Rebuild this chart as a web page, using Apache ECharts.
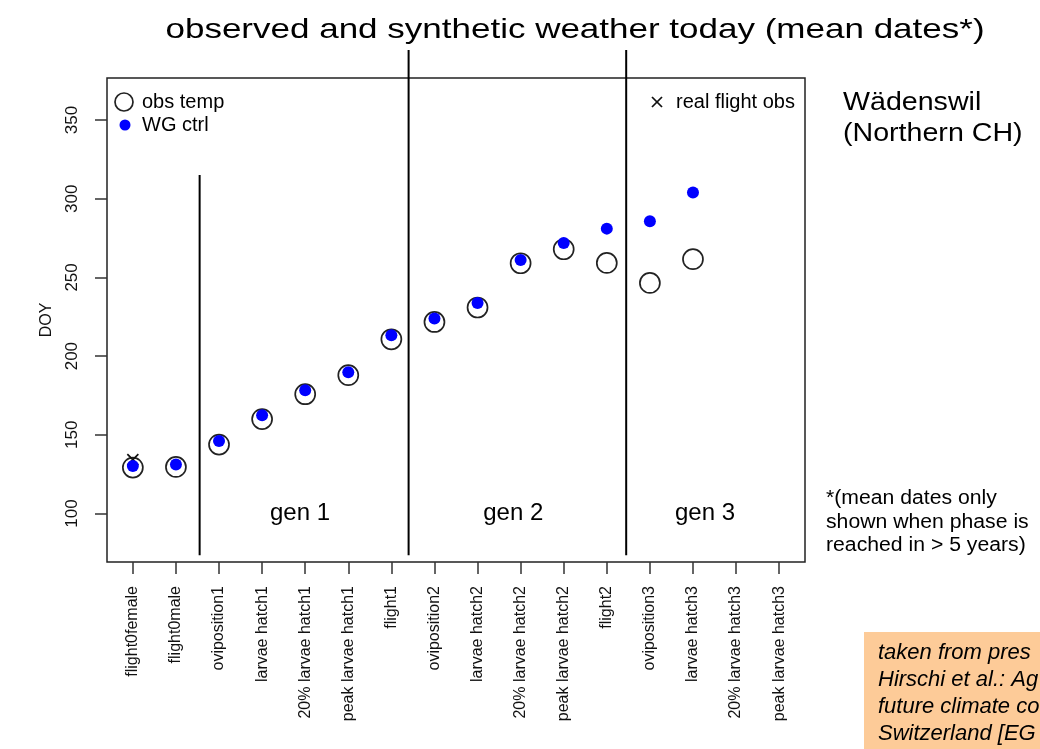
<!DOCTYPE html>
<html lang="en">
<head>
<meta charset="UTF-8">
<title>observed and synthetic weather today</title>
<script src="https://cdn.jsdelivr.net/npm/echarts@6/dist/echarts.min.js"></script>
<style>
  html, body { margin: 0; padding: 0; background: #fff; }
  #main { width: 1040px; height: 749px; }
</style>
</head>
<body>
<div id="main"></div>
<script type="text/javascript">
// phases on the x axis
var phases = ['flight0female', 'flight0male', 'oviposition1', 'larvae hatch1', '20% larvae hatch1',
  'peak larvae hatch1', 'flight1', 'oviposition2', 'larvae hatch2', '20% larvae hatch2',
  'peak larvae hatch2', 'flight2', 'oviposition3', 'larvae hatch3', '20% larvae hatch3', 'peak larvae hatch3'];
// mean DOY, observed temperature
var obsTemp = [129.2, 129.6, 143.8, 160, 175.8, 187.9, 210.7, 221.7, 230.9, 259, 267.9, 259.2, 246.5, 261.6, null, null];
// mean DOY, weather generator control run
var wgCtrl = [130.2, 131.1, 146.1, 162.5, 178.3, 189.8, 213.3, 223.9, 233.8, 261, 271.8, 281, 285.7, 303.9, null, null];
// real flight observation
var realFlight = [134.3, null, null, null, null, null, null, null, null, null, null, null, null, null, null, null];
var yTicks = [100, 150, 200, 250, 300, 350];
// generation separators: x position, y from, y to
var separators = [[2.55, 73.5, 315], [7.4, 73.5, 394.5], [12.45, 73.5, 394.5]];
var genLabels = [[4.88, 100, 'gen 1'], [9.83, 100, 'gen 2'], [14.28, 100, 'gen 3']];

function toPoints(arr) {
  var out = [];
  for (var i = 0; i < arr.length; i++) {
    if (arr[i] != null) out.push([i + 1, arr[i]]);
  }
  return out;
}
var xTicks = phases.map(function (p, i) { return i + 1; });

var FONT = '"Liberation Sans", Arial, sans-serif';
var myChart = echarts.init(document.getElementById('main'));
var option = {
  backgroundColor: '#fff',
  animation: false,
  textStyle: { fontFamily: FONT },
  grid: { left: 107, top: 78, width: 698, height: 484, show: true, borderColor: '#222', borderWidth: 1.5 },
  xAxis: {
    type: 'value', min: 0.4, max: 16.6,
    splitLine: { show: false },
    axisLine: { show: false },
    axisTick: { show: true, customValues: xTicks, length: 12, lineStyle: { color: '#333', width: 1.5 } },
    axisLabel: {
      customValues: xTicks, rotate: 90, margin: 24, fontSize: 16, color: '#111', fontFamily: FONT,
      formatter: function (v) { return phases[Math.round(v) - 1]; }
    }
  },
  yAxis: {
    type: 'value', min: 69.2, max: 376.7,
    name: 'DOY', nameLocation: 'middle', nameGap: 52, nameRotate: 90,
    nameTextStyle: { fontSize: 16, color: '#111', fontFamily: FONT },
    splitLine: { show: false },
    axisLine: { show: false },
    axisTick: { show: true, customValues: yTicks, length: 12, lineStyle: { color: '#333', width: 1.5 } },
    axisLabel: { customValues: yTicks, rotate: 90, margin: 26, fontSize: 17, color: '#111', fontFamily: FONT }
  },
  series: [
    {
      name: 'obs temp', type: 'scatter', data: toPoints(obsTemp),
      symbol: 'circle', symbolSize: 20,
      itemStyle: { color: 'rgba(0,0,0,0)', borderColor: '#222', borderWidth: 1.7, opacity: 1 }
    },
    {
      name: 'real flight obs', type: 'scatter', data: toPoints(realFlight),
      symbol: 'path://M0,0L10,10M10,0L0,10', symbolSize: 11,
      itemStyle: { color: 'rgba(0,0,0,0)', borderColor: '#111', borderWidth: 1.7, opacity: 1 }
    },
    {
      name: 'WG ctrl', type: 'scatter', data: toPoints(wgCtrl),
      symbol: 'circle', symbolSize: 12,
      itemStyle: { color: '#0000ff', opacity: 1 }
    },
    {
      name: 'separators', type: 'custom', data: separators, silent: true,
      renderItem: function (params, api) {
        var p0 = api.coord([api.value(0), api.value(1)]);
        var p1 = api.coord([api.value(0), api.value(2)]);
        return {
          type: 'line',
          shape: { x1: p0[0], y1: p0[1], x2: p1[0], y2: p1[1] },
          style: { stroke: '#000', lineWidth: 2 }
        };
      }
    },
    {
      name: 'generations', type: 'scatter', data: genLabels, symbolSize: 0, silent: true,
      itemStyle: { opacity: 1 },
      label: {
        show: true, position: 'inside', fontSize: 24, color: '#000', fontFamily: FONT,
        formatter: function (p) { return p.data[2]; }
      }
    }
  ],
  graphic: [
    { type: 'text', x: 575, y: 30, scaleX: 1.25,
      style: { text: 'observed and synthetic weather today (mean dates*)', fill: '#000',
        font: '28px ' + FONT, align: 'center', verticalAlign: 'middle' } },
    { type: 'text', x: 843, y: 103, scaleX: 1.1,
      style: { text: 'Wädenswil', fill: '#000', font: '26px ' + FONT, align: 'left', verticalAlign: 'middle' } },
    { type: 'text', x: 843, y: 134, scaleX: 1.1,
      style: { text: '(Northern CH)', fill: '#000', font: '26px ' + FONT, align: 'left', verticalAlign: 'middle' } },
    { type: 'text', x: 826, y: 487, scaleX: 1.06,
      style: { text: '*(mean dates only\nshown when phase is\nreached in > 5 years)', fill: '#000',
        font: '20px ' + FONT, lineHeight: 23.5, align: 'left', verticalAlign: 'top' } },
    // legend, top left
    { type: 'circle', shape: { cx: 124, cy: 102, r: 9 }, style: { fill: 'none', stroke: '#222', lineWidth: 1.7 } },
    { type: 'text', x: 142, y: 102, style: { text: 'obs temp', fill: '#000', font: '20px ' + FONT, verticalAlign: 'middle' } },
    { type: 'circle', shape: { cx: 125, cy: 125, r: 5.5 }, style: { fill: '#0000ff' } },
    { type: 'text', x: 142, y: 125, style: { text: 'WG ctrl', fill: '#000', font: '20px ' + FONT, verticalAlign: 'middle' } },
    // legend, top right
    { type: 'line', shape: { x1: 652, y1: 97, x2: 662, y2: 107 }, style: { stroke: '#111', lineWidth: 1.7 } },
    { type: 'line', shape: { x1: 662, y1: 97, x2: 652, y2: 107 }, style: { stroke: '#111', lineWidth: 1.7 } },
    { type: 'text', x: 676, y: 102, style: { text: 'real flight obs', fill: '#000', font: '20px ' + FONT, verticalAlign: 'middle' } },
    // source note box
    { type: 'rect', shape: { x: 864, y: 632, width: 200, height: 140 }, style: { fill: '#fdcb98' } },
    { type: 'text', x: 878, y: 640,
      style: { text: 'taken from pres\nHirschi et al.: Ag\nfuture climate co\nSwitzerland [EG', fill: '#000',
        font: 'italic 22px ' + FONT, lineHeight: 26.7, align: 'left', verticalAlign: 'top' } }
  ]
};
myChart.setOption(option);
</script>
</body>
</html>
